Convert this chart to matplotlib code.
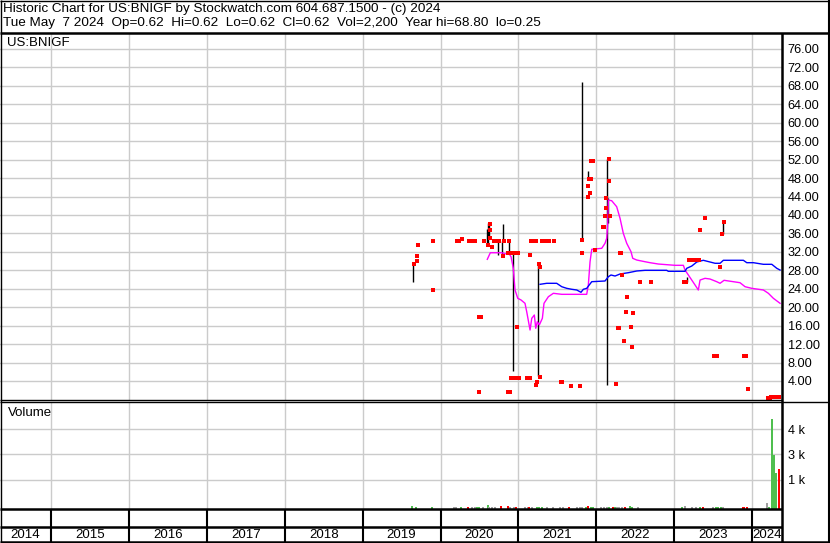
import matplotlib.pyplot as plt
from matplotlib.lines import Line2D

plt.rcParams['font.family'] = ['Liberation Sans', 'DejaVu Sans']

# ---- data (dates as decimal years) ----
header_1 = "Historic Chart for US:BNIGF by Stockwatch.com 604.687.1500 - (c) 2024"
header_2 = "Tue May  7 2024  Op=0.62  Hi=0.62  Lo=0.62  Cl=0.62  Vol=2,200  Year hi=68.80  lo=0.25"
symbol = "US:BNIGF"

years = list(range(2014, 2025))
price_ticks = list(range(4, 77, 4))
vol_ticks = [1500, 2800, 4100]
vol_tick_labels = ["1 k", "3 k", "4 k"]

close_dates = [
    2019.660, 2019.694, 2019.702, 2019.711, 2019.903, 2019.903,
    2020.208, 2020.231, 2020.276, 2020.366, 2020.417, 2020.443, 2020.490, 2020.494,
    2020.520, 2020.558, 2020.606, 2020.635, 2020.635, 2020.635, 2020.661, 2020.686,
    2020.708, 2020.750, 2020.806, 2020.815, 2020.866, 2020.870, 2020.885, 2020.892,
    2020.905, 2020.905, 2020.930, 2020.943, 2020.956, 2020.981, 2020.981, 2020.988,
    2021.007, 2021.106, 2021.129, 2021.149, 2021.149, 2021.158, 2021.178, 2021.200,
    2021.226, 2021.226, 2021.239, 2021.264, 2021.277, 2021.277, 2021.307, 2021.332,
    2021.350, 2021.393, 2021.457, 2021.550, 2021.565, 2021.671, 2021.790, 2021.816,
    2021.820, 2021.893, 2021.893, 2021.912, 2021.919, 2021.930, 2021.935, 2021.953,
    2021.979, 2022.090, 2022.104, 2022.107, 2022.124, 2022.124, 2022.159, 2022.163,
    2022.176, 2022.249, 2022.282, 2022.295, 2022.308, 2022.321, 2022.334, 2022.352,
    2022.377, 2022.390, 2022.449, 2022.454, 2022.467, 2022.557, 2022.698,
    2023.126, 2023.151, 2023.190, 2023.232, 2023.254, 2023.280, 2023.305, 2023.322,
    2023.331, 2023.391, 2023.511, 2023.545, 2023.584, 2023.613, 2023.639, 2023.899,
    2023.921, 2023.943,
    2024.200, 2024.223, 2024.242, 2024.268, 2024.294, 2024.319, 2024.345,
]
close_prices = [
    29.36, 30.01, 31.10, 33.55, 34.35, 23.73,
    34.35, 34.35, 34.79, 34.35, 34.35, 34.35, 1.67, 17.94,
    17.94, 34.35, 33.49, 38.04, 36.74, 35.00, 33.05, 34.35,
    34.35, 34.35, 31.10, 34.35, 31.81, 1.67, 34.35, 1.67,
    31.81, 4.71, 4.71, 31.81, 4.71, 4.71, 15.77, 31.81,
    4.71, 4.71, 4.71, 4.71, 31.38, 34.35, 34.35, 34.35,
    34.35, 3.12, 3.84, 29.36, 28.78, 4.92, 34.35, 34.35,
    34.35, 34.35, 34.35, 3.84, 3.84, 2.97, 2.97, 31.81,
    34.57, 46.28, 43.96, 47.80, 44.76, 47.80, 51.77, 51.77,
    32.40, 37.45, 37.45, 39.84, 43.74, 41.57, 52.20, 47.43,
    39.84, 3.34, 15.55, 15.55, 31.81, 31.81, 27.04, 12.73,
    18.95, 22.27, 15.77, 11.43, 18.74, 25.53, 25.53,
    25.53, 25.53, 30.23, 30.23, 30.23, 30.23, 30.23, 30.23,
    36.74, 39.41, 9.48, 9.48, 28.78, 35.87, 38.54, 9.48,
    9.48, 2.26,
    0.40, 0.40, 0.45, 0.50, 0.55, 0.60, 0.62,
]

bar_dates = [2019.651, 2020.593, 2020.613, 2020.626, 2020.742, 2020.793, 2020.806,
             2020.885, 2020.934, 2021.158, 2021.255, 2021.820, 2021.897, 2022.141,
             2022.150, 2023.160, 2023.630]
bar_highs = [29.15, 36.95, 38.20, 38.54, 34.35, 34.35, 38.04,
             34.35, 31.75, 34.70, 29.65, 68.80, 49.53, 52.20,
             43.74, 26.48, 38.69]
bar_lows = [25.53, 33.49, 33.85, 35.29, 31.32, 31.10, 34.35,
            31.70, 6.20, 34.20, 5.07, 34.57, 47.80, 3.06,
            38.30, 25.53, 35.87]

ma_short_dates = [
    2020.600, 2020.639, 2020.785, 2020.850, 2020.870, 2020.905, 2020.934, 2020.956,
    2020.991, 2021.033, 2021.084, 2021.106, 2021.149, 2021.171, 2021.204, 2021.222,
    2021.242, 2021.268, 2021.307, 2021.328, 2021.384, 2021.448, 2021.556, 2021.876,
    2021.897, 2021.919, 2021.941, 2022.069, 2022.111, 2022.133, 2022.146, 2022.154,
    2022.197, 2022.261, 2022.304, 2022.346, 2022.390, 2022.445, 2022.467, 2022.518,
    2022.625, 2022.689, 2022.796, 2023.010, 2023.117, 2023.138, 2023.181, 2023.267,
    2023.309, 2023.331, 2023.395, 2023.459, 2023.545, 2023.588, 2023.639, 2023.758,
    2023.844, 2023.909, 2023.995, 2024.144, 2024.208, 2024.272, 2024.358,
]
ma_short_vals = [
    30.38, 31.81, 31.81, 31.50, 31.81, 30.95, 28.43, 23.73,
    21.93, 21.56, 20.84, 19.02, 15.05, 17.59, 18.30, 15.42,
    16.85, 16.14, 17.59, 20.84, 22.27, 23.01, 22.79, 22.79,
    24.81, 29.86, 32.55, 32.77, 33.85, 34.94, 38.19, 43.24,
    43.09, 41.79, 39.28, 36.02, 33.85, 32.03, 30.60, 30.23,
    29.86, 29.65, 29.36, 29.08, 29.08, 28.06, 26.98, 24.81,
    23.73, 25.89, 26.26, 26.11, 25.53, 25.18, 25.83, 25.53,
    25.31, 24.44, 24.09, 23.73, 23.01, 21.93, 20.84,
]

ma_long_dates = [
    2021.277, 2021.363, 2021.491, 2021.556, 2021.620, 2021.684, 2021.748, 2021.803,
    2021.833, 2021.876, 2021.941, 2022.111, 2022.154, 2022.188, 2022.240, 2022.304,
    2022.411, 2022.518, 2022.625, 2022.903, 2022.924, 2023.138, 2023.160, 2023.225,
    2023.289, 2023.373, 2023.459, 2023.524, 2023.588, 2023.630, 2023.887, 2023.931,
    2024.016, 2024.144, 2024.252, 2024.316, 2024.358,
]
ma_long_vals = [
    24.96, 25.18, 25.18, 24.44, 24.09, 23.88, 23.73, 23.23,
    23.88, 24.09, 25.53, 25.68, 26.61, 26.98, 26.76, 27.20,
    27.48, 27.85, 28.00, 28.00, 27.78, 27.78, 28.43, 28.93,
    29.80, 30.17, 29.80, 29.52, 29.52, 30.17, 30.17, 29.65,
    29.65, 29.30, 29.30, 28.43, 28.06,
]

vol_dates = [
    2019.638, 2019.685, 2019.887, 2020.173, 2020.199, 2020.259, 2020.349, 2020.404,
    2020.443, 2020.469, 2020.494, 2020.550, 2020.606, 2020.623, 2020.660, 2020.700,
    2020.776, 2020.866, 2020.892, 2020.940, 2020.969, 2021.085, 2021.120, 2021.136,
    2021.180, 2021.240, 2021.265, 2021.300, 2021.370, 2021.445, 2021.535, 2021.570,
    2021.650, 2021.750, 2021.790, 2021.815, 2021.867, 2021.893, 2021.930, 2021.955,
    2022.060, 2022.100, 2022.140, 2022.163, 2022.215, 2022.240, 2022.265, 2022.290,
    2022.330, 2022.370, 2022.433, 2022.459, 2022.536, 2023.100, 2023.138, 2023.230,
    2023.280, 2023.330, 2023.370, 2023.500, 2023.537, 2023.562, 2023.600, 2023.626,
    2023.880, 2023.896, 2023.935, 2024.187, 2024.220, 2024.253, 2024.277, 2024.303,
    2024.341,
]
vol_values = [
    160, 100, 100, 100, 100, 100, 100, 100,
    100, 100, 100, 100, 220, 100, 100, 100,
    150, 170, 100, 100, 100, 100, 100, 100,
    100, 100, 100, 100, 100, 100, 100, 100,
    100, 100, 100, 100, 100, 150, 100, 100,
    100, 100, 100, 100, 100, 100, 100, 100,
    100, 100, 170, 100, 100, 100, 170, 100,
    100, 100, 100, 100, 100, 100, 100, 100,
    100, 100, 100, 320, 100, 4615, 2770, 1860,
    2050,
]
vol_dirs = (
    "gggnngrn" "nggngnnn" "rrnnrnnr" "ngggnnnn"
    "rnnngrgg" "nnngrgnn" "nrggngnn" "ngrnggg" "n"
    "rrrngggg" "r"
)

# ---- layout (pixels of the 830x543 picture) ----
W, H = 830, 543
X0, X1 = 2014.345, 2024.383
GRID = '#CBCBCB'
VOL_COLORS = {'g': '#4FBF4F', 'r': '#FF0000', 'n': '#A0A0A0'}


def box(x0, y0, x1, y1):
    return [x0 / W, 1 - y1 / H, (x1 - x0) / W, (y1 - y0) / H]


def pline(fig, xs, ys, lw=1.0):
    fig.add_artist(Line2D([x / W for x in xs], [1 - y / H for y in ys],
                          color='black', lw=lw, solid_capstyle='butt'))


fig = plt.figure(figsize=(W / 100, H / 100), dpi=100)
fig.patch.set_facecolor('white')

fig.text(3 / W, 1 - 9 / H, header_1, fontsize=9.7, va='center', ha='left')
fig.text(3 / W, 1 - 23 / H, header_2, fontsize=9.7, va='center', ha='left')

# price panel
ax = fig.add_axes(box(0, 34, 782, 400))
ax.set_xlim(X0, X1)
ax.set_ylim(-0.13, 79.25)
for v in price_ticks:
    ax.axhline(v, color=GRID, lw=1.0, zorder=0)
for yr in years[1:]:
    ax.axvline(yr, color=GRID, lw=1.0, zorder=0)
ax.vlines(bar_dates, bar_lows, bar_highs, color='black', lw=1.0, zorder=2)
ax.plot(ma_short_dates, ma_short_vals, color='#FF00FF', lw=1.0, zorder=3)
ax.plot(ma_long_dates, ma_long_vals, color='#0000FF', lw=1.0, zorder=3)
ax.plot(close_dates, close_prices, 's', color='red', ms=2.4, mew=0, zorder=4)
ax.yaxis.tick_right()
ax.set_yticks(price_ticks)
ax.set_yticklabels([f"{v:.2f}" for v in price_ticks])
ax.tick_params(axis='y', length=0, pad=4, labelsize=9.2)
ax.set_xticks([])
for s in ax.spines.values():
    s.set_visible(False)
ax.text(7 / 782, (400 - 43) / 366, symbol, transform=ax.transAxes,
        fontsize=9.5, va='center', ha='left')

# volume panel
axv = fig.add_axes(box(0, 402, 782, 509))
axv.set_xlim(X0, X1)
axv.set_ylim(0, 5487)
for v in vol_ticks:
    axv.axhline(v, color=GRID, lw=1.0, zorder=0)
for yr in years[1:]:
    axv.axvline(yr, color=GRID, lw=1.0, zorder=0)
axv.bar(vol_dates, vol_values, width=0.025,
        color=[VOL_COLORS[c] for c in vol_dirs], linewidth=0, zorder=2)
axv.yaxis.tick_right()
axv.set_yticks(vol_ticks)
axv.set_yticklabels(vol_tick_labels)
axv.tick_params(axis='y', length=0, pad=4, labelsize=9.2)
axv.set_xticks([])
for s in axv.spines.values():
    s.set_visible(False)
axv.text(8 / 782, (509 - 413) / 107, "Volume", transform=axv.transAxes,
         fontsize=9.5, va='center', ha='left')

# date strip
axd = fig.add_axes(box(0, 509, 782, 542))
axd.set_xlim(X0, X1)
axd.set_ylim(0, 1)
axd.axis('off')
axd.vlines(years[1:], 0, 1, color='black', lw=1.5)
for yr in years:
    a, b = max(yr, X0), min(yr + 1, X1)
    axd.text((a + b) / 2, 0.22, str(yr), fontsize=9.5, ha='center', va='center')

# frame lines
pline(fig, [0, W], [33, 33], lw=1.8)
pline(fig, [0, 782], [400, 400], lw=1.0)
pline(fig, [0, W], [402, 402], lw=1.0)
pline(fig, [0, 782], [509, 509], lw=1.8)
pline(fig, [0, 782], [526.5, 526.5], lw=1.8)
pline(fig, [782, 782], [33, 543], lw=1.8)
pline(fig, [0.5, 0.5], [0, 543], lw=1.0)
pline(fig, [828.5, 828.5], [0, 543], lw=1.5)
pline(fig, [0, W], [542, 542], lw=1.8)
pline(fig, [0, W], [0.5, 0.5], lw=1.0)

fig.savefig("out.png", dpi=100)
